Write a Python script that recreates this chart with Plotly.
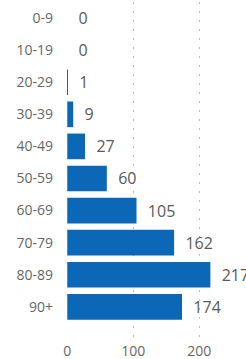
import plotly.graph_objects as go

categories = ["0-9", "10-19", "20-29", "30-39", "40-49", "50-59", "60-69", "70-79", "80-89", "90+"]
values = [0, 0, 1, 9, 27, 60, 105, 162, 217, 174]

fig = go.Figure(go.Bar(
    x=values, y=categories, orientation="h",
    marker=dict(color="#0C67B6", line=dict(width=0)),
    text=values, texttemplate="  %{x}", textposition="outside",
    textfont=dict(family="Open Sans, Arial, sans-serif", size=16, color="#5a5a5a"),
    cliponaxis=False,
))

fig.update_layout(
    width=246, height=359,
    margin=dict(l=67, r=0, t=2, b=22),
    paper_bgcolor="white", plot_bgcolor="white",
    bargap=0.2, showlegend=False,
    xaxis=dict(range=[-0.4, 271], tickvals=[0, 100, 200], showgrid=True,
               gridcolor="#bdbdbd", griddash="2px,7px", gridwidth=1, zeroline=False,
               showline=False, ticks="", automargin=False, ticklabelstandoff=4,
               tickfont=dict(family="Open Sans, Arial, sans-serif", size=14, color="#666666")),
    yaxis=dict(type="category", range=[9.94, -0.5], showgrid=False, zeroline=False,
               showline=False, ticks="", ticklabelstandoff=13, automargin=False,
               tickfont=dict(family="Open Sans, Arial, sans-serif", size=14, color="#666666")),
)

fig.write_html("out.html", config={"displayModeBar": False},
               post_script="document.body.style.margin='0';")
